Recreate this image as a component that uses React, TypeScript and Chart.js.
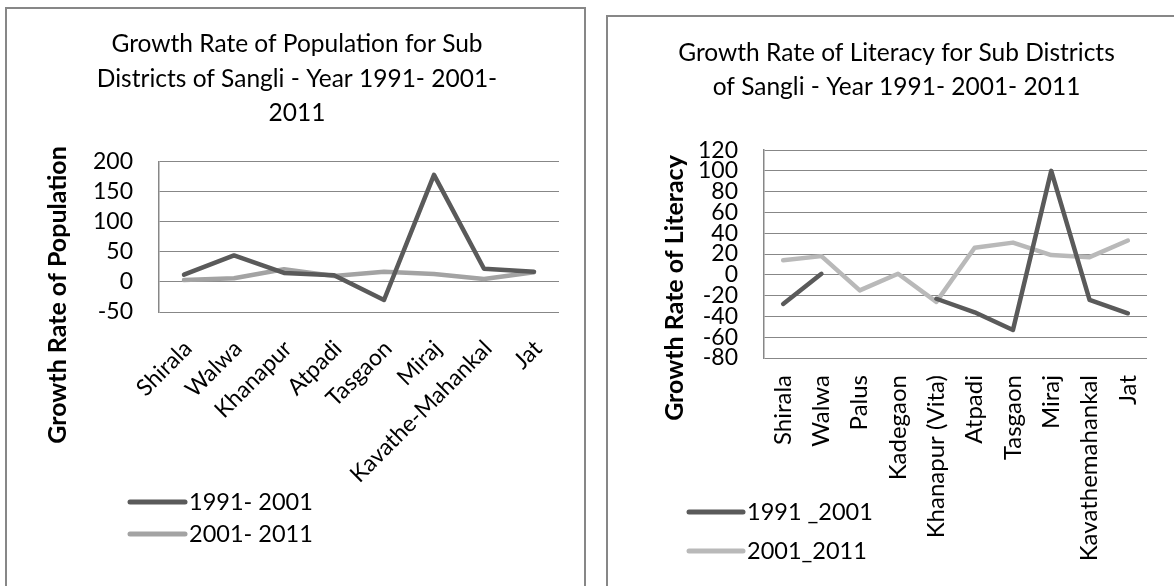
import React, { useEffect, useRef } from 'react';
import { Chart, registerables } from 'chart.js';

Chart.register(...registerables);

// ---------- data ----------
const popCategories = ['Shirala', 'Walwa', 'Khanapur', 'Atpadi', 'Tasgaon', 'Miraj', 'Kavathe-Mahankal', 'Jat'];
const pop1991_2001 = [12, 44, 15, 11, -30, 178, 22, 17];
const pop2001_2011 = [3, 6, 21, 10, 17, 13, 5, 16];
const popSeriesLabels = ['1991- 2001', '2001- 2011'];
const popTitle = ['Growth Rate of Population for Sub', 'Districts of Sangli - Year 1991- 2001-', '2011'];
const popYTitle = 'Growth Rate of Population';
const popYTicks = { min: -50, max: 200, step: 50 };

const litCategories = ['Shirala', 'Walwa', 'Palus', 'Kadegaon', 'Khanapur (Vita)', 'Atpadi', 'Tasgaon', 'Miraj', 'Kavathemahankal', 'Jat'];
const lit1991_2001 = [-28, 1, null, null, -23, -36, -53, 100, -24, -37];
const lit2001_2011 = [14, 18, -15, 1, -26, 26, 31, 19, 17, 33];
const litSeriesLabels = ['1991 _2001', '2001_2011'];
const litTitle = ['Growth Rate of Literacy for Sub Districts', 'of Sangli - Year 1991- 2001- 2011'];
const litYTitle = 'Growth Rate of Literacy';
const litYTicks = { min: -80, max: 120, step: 20 };

// ---------- styles ----------
const FONT = 'Lato';
const TITLE_FS = 24.5;
const AXIS_TITLE_FS = 25;
const YTICK_FS = 23;
const LEGEND_FS = 23.5;
const GRID = '#878787';
const DARK = '#5a5a5a';

const decorPlugin = {
  id: 'decor',
  afterDraw(chart: any, _args: any, opts: any) {
    const ctx = chart.ctx;
    ctx.save();
    ctx.fillStyle = '#000';
    ctx.font = `bold ${AXIS_TITLE_FS}px ${FONT}`;
    ctx.textAlign = 'center';
    ctx.textBaseline = 'middle';
    ctx.translate(opts.yTitleX, opts.yTitleY);
    ctx.rotate(-Math.PI / 2);
    ctx.fillText(opts.yTitle, 0, 0);
    ctx.restore();

    ctx.save();
    ctx.font = `${LEGEND_FS}px ${FONT}`;
    ctx.textAlign = 'left';
    ctx.textBaseline = 'middle';
    chart.data.datasets.forEach((ds: any, i: number) => {
      const y = opts.legendY + i * opts.legendGap;
      ctx.beginPath();
      ctx.moveTo(opts.legendX, y);
      ctx.lineTo(opts.legendX + opts.legendLine, y);
      ctx.strokeStyle = ds.borderColor;
      ctx.lineWidth = 5;
      ctx.lineCap = 'round';
      ctx.stroke();
      ctx.fillStyle = '#000';
      ctx.fillText(ds.label, opts.legendX + opts.legendLine + 4, y);
    });
    ctx.restore();
  },
};

function makeConfig(p: any): any {
  return {
    type: 'line',
    data: {
      labels: p.labels,
      datasets: p.series.map((s: any) => ({
        label: s.label,
        data: s.data,
        borderColor: s.color,
        backgroundColor: s.color,
        borderWidth: 4.5,
        pointRadius: 0,
        pointHoverRadius: 0,
        tension: 0,
        spanGaps: false,
        fill: false,
        borderCapStyle: 'round',
        borderJoinStyle: 'round',
      })),
    },
    options: {
      responsive: false,
      animation: false,
      devicePixelRatio: 1,
      events: [],
      layout: { autoPadding: false, padding: p.padding },
      plugins: {
        legend: { display: false },
        tooltip: { enabled: false },
        title: {
          display: true,
          text: p.title,
          color: '#000',
          font: { family: FONT, size: TITLE_FS, weight: 'normal', lineHeight: p.titleLH },
          padding: p.titlePad,
        },
        decor: p.decor,
      },
      scales: {
        x: {
          type: 'category',
          offset: true,
          grid: { display: false },
          border: { display: false },
          ticks: {
            autoSkip: false,
            minRotation: p.rot,
            maxRotation: p.rot,
            padding: p.xPad,
            labelOffset: p.xLabelOffset,
            color: '#000',
            font: { family: FONT, size: p.xFs },
          },
          afterFit: (s: any) => { s.height = p.xH; },
        },
        y: {
          min: p.yTicks.min,
          max: p.yTicks.max,
          ticks: {
            stepSize: p.yTicks.step,
            autoSkip: false,
            padding: 26,
            color: '#000',
            font: { family: FONT, size: YTICK_FS },
          },
          grid: { color: GRID, lineWidth: 1, drawTicks: false },
          border: { display: true, color: GRID, width: 1.5 },
          afterFit: (s: any) => { s.width = p.yW; },
        },
      },
    },
    plugins: [decorPlugin],
  };
}

export default function App() {
  const leftRef = useRef<HTMLCanvasElement>(null);
  const rightRef = useRef<HTMLCanvasElement>(null);

  useEffect(() => {
    const left = new Chart(leftRef.current as HTMLCanvasElement, makeConfig({
      labels: popCategories,
      series: [
        { label: popSeriesLabels[0], data: pop1991_2001, color: DARK },
        { label: popSeriesLabels[1], data: pop2001_2011, color: '#a3a3a3' },
      ],
      title: popTitle,
      titleLH: 1.41,
      titlePad: { top: 27, bottom: 31 },
      padding: { left: 35, right: 31, top: 0, bottom: 14 },
      yW: 124,
      xH: 260,
      rot: 45,
      xPad: 15,
      xLabelOffset: 4,
      xFs: 23,
      yTicks: popYTicks,
      decor: {
        yTitle: popYTitle, yTitleX: 58, yTitleY: 295,
        legendX: 130, legendY: 502, legendGap: 32, legendLine: 55,
      },
    }));
    const right = new Chart(rightRef.current as HTMLCanvasElement, makeConfig({
      labels: litCategories,
      series: [
        { label: litSeriesLabels[0], data: lit1991_2001, color: DARK },
        { label: litSeriesLabels[1], data: lit2001_2011, color: '#b9b9b9' },
      ],
      title: litTitle,
      titleLH: 1.39,
      titlePad: { top: 36, bottom: 46 },
      padding: { left: 46, right: 45, top: 0, bottom: 0 },
      yW: 118,
      xH: 228,
      rot: 90,
      xPad: 9,
      xLabelOffset: 0,
      xFs: 24,
      yTicks: litYTicks,
      decor: {
        yTitle: litYTitle, yTitleX: 75, yTitleY: 288,
        legendX: 89, legendY: 512, legendGap: 39, legendLine: 54,
      },
    }));
    return () => { left.destroy(); right.destroy(); };
  }, []);

  return (
    <div style={{ position: 'fixed', left: 0, top: 0, width: 1174, height: 586, overflow: 'hidden', background: '#fff' }}>
      <div style={{ position: 'absolute', left: 5, top: 7, width: 581, height: 640, border: `2px solid ${GRID}`, boxSizing: 'border-box' }} />
      <div style={{ position: 'absolute', left: 606, top: 15, width: 581, height: 640, border: `2px solid ${GRID}`, boxSizing: 'border-box' }} />
      <canvas ref={leftRef} width={590} height={586} style={{ position: 'absolute', left: 0, top: 0, width: 590, height: 586 }} />
      <canvas ref={rightRef} width={592} height={586} style={{ position: 'absolute', left: 600, top: 0, width: 592, height: 586 }} />
    </div>
  );
}
